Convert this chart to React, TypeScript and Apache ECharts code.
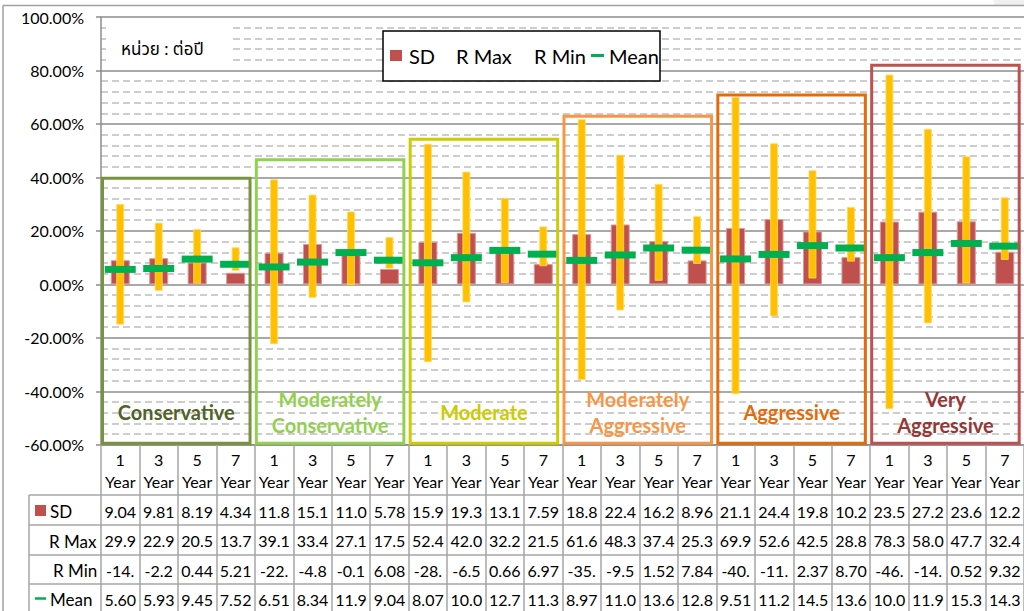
import React, { useEffect, useRef } from "react";
import * as echarts from "echarts";

// ---------- data ----------
const categories = [
  "1 Year", "3 Year", "5 Year", "7 Year",
  "1 Year", "3 Year", "5 Year", "7 Year",
  "1 Year", "3 Year", "5 Year", "7 Year",
  "1 Year", "3 Year", "5 Year", "7 Year",
  "1 Year", "3 Year", "5 Year", "7 Year",
  "1 Year", "3 Year", "5 Year", "7 Year",
];
const sdValues = [9.04, 9.81, 8.19, 4.34, 11.8, 15.1, 11.0, 5.78, 15.9, 19.3, 13.1, 7.59, 18.8, 22.4, 16.2, 8.96, 21.1, 24.4, 19.8, 10.2, 23.5, 27.2, 23.6, 12.2];
const rMaxValues = [29.9, 22.9, 20.5, 13.7, 39.1, 33.4, 27.1, 17.5, 52.4, 42.0, 32.2, 21.5, 61.6, 48.3, 37.4, 25.3, 69.9, 52.6, 42.5, 28.8, 78.3, 58.0, 47.7, 32.4];
const rMinValues = [-14.9, -2.25, 0.44, 5.21, -22.2, -4.85, -0.15, 6.08, -28.9, -6.55, 0.66, 6.97, -35.6, -9.55, 1.52, 7.84, -40.9, -11.8, 2.37, 8.7, -46.5, -14.4, 0.52, 9.32];
const meanValues = [5.6, 5.93, 9.45, 7.52, 6.51, 8.34, 11.9, 9.04, 8.07, 10.0, 12.7, 11.3, 8.97, 11.0, 13.6, 12.8, 9.51, 11.2, 14.5, 13.6, 10.0, 11.9, 15.3, 14.3];

const seriesNames = ["SD", "R Max", "R Min", "Mean"];
const groupNames = ["Conservative", "Moderately\nConservative", "Moderate", "Moderately\nAggressive", "Aggressive", "Very\nAggressive"];
const groupStart = [0, 4, 8, 12, 16, 20];
const groupEnd = [3, 7, 11, 15, 19, 23];
const groupTops = [39.7, 46.6, 54.3, 62.9, 70.8, 82.0];
const groupBoxColors = ["#77933C", "#92D050", "#CCCC00", "#F79646", "#E36C09", "#C0504D"];
const groupTextColors = ["#4F6228", "#92D050", "#CCCC00", "#F79646", "#E36C09", "#953735"];
const unitLabel = "หน่วย : ต่อปี";
const yMin = -60;
const yMax = 100;
const yInterval = 20;

const FONT = 'Lato, "Noto Sans", "Noto Sans Thai", sans-serif';
const fmt = (v: number) => v.toFixed(2).slice(0, 4);

const SD_COLOR = "#C0504D";
const RANGE_COLOR = "#FFC000";
const MEAN_COLOR = "#00B050";
const TABLE_LINE = "#A6A6A6";

export default function App() {
  const ref = useRef<HTMLDivElement>(null);
  useEffect(() => {
    document.body.style.margin = "0";
    const chart = echarts.init(ref.current!, null, { renderer: "svg" });

    const tableAxis = (values: number[], offset: number) => ({
      type: "category" as const,
      gridIndex: 0,
      position: "bottom" as const,
      offset,
      data: values.map(fmt),
      axisLine: { show: false, onZero: false },
      axisTick: { show: false },
      splitLine: { show: false },
      axisLabel: { interval: 0, margin: 0, fontSize: 16, lineHeight: 20, color: "#000", fontFamily: FONT },
    });

    const txt = (x: number, y: number, text: string, size: number, extra: any = {}) => ({
      type: "text",
      x,
      y,
      z: 20,
      style: {
        text,
        fill: "#000",
        font: `${size}px ${FONT}`,
        align: "left",
        textAlign: "left",
        verticalAlign: "middle",
        textVerticalAlign: "middle",
        ...extra,
      },
    });
    const hline = (x1: number, x2: number, y: number, color = TABLE_LINE, w = 1.5) => ({
      type: "line",
      z: 15,
      shape: { x1, y1: y, x2, y2: y },
      style: { stroke: color, lineWidth: w },
    });
    const vline = (x: number, y1: number, y2: number, color = TABLE_LINE, w = 1.5) => ({
      type: "line",
      z: 15,
      shape: { x1: x, y1, x2: x, y2 },
      style: { stroke: color, lineWidth: w },
    });

    const option: any = {
      animation: false,
      textStyle: { fontFamily: FONT },
      grid: { left: 101, top: 17, width: 927.6, height: 427.8, containLabel: false },
      xAxis: [
        {
          type: "category",
          data: categories,
          axisLine: { onZero: false, lineStyle: { color: "#8C8C8C", width: 1.5 } },
          axisTick: { show: true, length: 167, lineStyle: { color: TABLE_LINE, width: 1.5 } },
          axisLabel: {
            interval: 0,
            margin: 4,
            fontSize: 16,
            lineHeight: 22,
            color: "#000",
            fontFamily: FONT,
            formatter: (v: string) => v.replace(" ", "\n"),
          },
          splitLine: { show: false },
        },
        tableAxis(sdValues, 56.7),
        tableAxis(rMaxValues, 86),
        tableAxis(rMinValues, 115.5),
        tableAxis(meanValues, 144.7),
      ],
      yAxis: {
        type: "value",
        min: yMin,
        max: yMax,
        interval: yInterval,
        axisLine: { show: true, lineStyle: { color: "#8C8C8C", width: 1.5 } },
        axisTick: { show: true, length: 5, lineStyle: { color: "#8C8C8C", width: 1.5 } },
        axisLabel: {
          margin: 17,
          fontSize: 16,
          color: "#000",
          fontFamily: FONT,
          formatter: (v: number) => `${v.toFixed(2)}%`,
        },
        splitLine: { show: true, lineStyle: { color: "#8C8C8C", width: 1.5 } },
        minorTick: { show: false, splitNumber: 5 },
        minorSplitLine: { show: true, lineStyle: { color: "#BDBDBD", width: 1.5, type: [7, 4] } },
      },
      series: [
        {
          name: seriesNames[0],
          type: "bar",
          data: sdValues,
          barWidth: 19,
          z: 2,
          itemStyle: { color: SD_COLOR, borderColor: "#D99A98", borderWidth: 1 },
        },
        {
          name: seriesNames[1] + " / " + seriesNames[2],
          type: "custom",
          z: 3,
          data: categories.map((_, i) => [i, rMinValues[i], rMaxValues[i]]),
          encode: { x: 0, y: [1, 2] },
          renderItem: (params: any, api: any) => {
            const lo = api.coord([api.value(0), api.value(1)]);
            const hi = api.coord([api.value(0), api.value(2)]);
            const w = 7;
            return {
              type: "rect",
              shape: { x: lo[0] - w / 2, y: hi[1], width: w, height: lo[1] - hi[1] },
              style: { fill: RANGE_COLOR, stroke: "#FFD966", lineWidth: 0.8 },
            };
          },
        },
        {
          name: seriesNames[3],
          type: "scatter",
          z: 4,
          data: meanValues,
          symbol: "rect",
          symbolSize: [31, 7],
          itemStyle: { color: MEAN_COLOR, opacity: 1 },
        },
        {
          name: "groups",
          type: "custom",
          z: 5,
          clip: false,
          data: groupTops.map((t, i) => [groupStart[i], groupEnd[i], t]),
          encode: { x: [0, 1], y: 2 },
          renderItem: (params: any, api: any) => {
            const s = api.value(0);
            const e = api.value(1);
            const top = api.value(2);
            const half = api.size([1, 0])[0] / 2;
            const pTop = api.coord([s, top]);
            const pEnd = api.coord([e, top]);
            const pBot = api.coord([s, yMin]);
            const x0 = pTop[0] - half + 1.5;
            const x1 = pEnd[0] + half - 4.8;
            const y0 = pTop[1];
            const y1 = pBot[1] - 1.5;
            const i = params.dataIndex;
            return {
              type: "group",
              children: [
                {
                  type: "rect",
                  shape: { x: x0, y: y0, width: x1 - x0, height: y1 - y0 },
                  style: { fill: "none", stroke: groupBoxColors[i], lineWidth: 3 },
                },
                {
                  type: "text",
                  x: (x0 + x1) / 2,
                  y: y1 - 31.5,
                  style: {
                    text: groupNames[i],
                    fill: groupTextColors[i],
                    font: `bold 20px ${FONT}`,
                    align: "center",
                    textAlign: "center",
                    verticalAlign: "middle",
                    textVerticalAlign: "middle",
                    lineHeight: 26,
                  },
                },
              ],
            };
          },
        },
      ],
      graphic: [
        // outer chart frame
        { type: "rect", z: 15, shape: { x: 994, y: 0, width: 30, height: 5 }, style: { fill: "#F0F0F0" } },
        hline(3, 1024, 5.5, "#A0A0A0", 1.5),
        vline(3, 5.5, 611, "#A0A0A0", 1.5),
        // unit label box
        { type: "rect", z: 12, shape: { x: 106, y: 19, width: 124, height: 47 }, style: { fill: "#fff" } },
        txt(121, 48, unitLabel, 17),
        // legend
        {
          type: "rect",
          z: 12,
          shape: { x: 383, y: 31, width: 277, height: 50 },
          style: { fill: "#fff", stroke: "#000", lineWidth: 1.5 },
        },
        { type: "rect", z: 20, shape: { x: 390, y: 50, width: 12, height: 11 }, style: { fill: SD_COLOR } },
        txt(409, 56, seriesNames[0], 20),
        txt(456, 56, seriesNames[1], 20),
        txt(534, 56, seriesNames[2], 20),
        { type: "line", z: 20, shape: { x1: 591, y1: 55.5, x2: 604, y2: 55.5 }, style: { stroke: MEAN_COLOR, lineWidth: 3 } },
        txt(609, 56, seriesNames[3], 20),
        // data table grid lines
        hline(29, 1024, 495),
        hline(29, 1024, 525),
        hline(29, 1024, 555),
        hline(29, 1024, 584),
        vline(29, 495, 611),
        // data table row headers
        { type: "rect", z: 20, shape: { x: 35, y: 505, width: 11, height: 11 }, style: { fill: SD_COLOR } },
        txt(50, 511, seriesNames[0], 17),
        txt(49, 541, seriesNames[1], 17),
        txt(53, 570, seriesNames[2], 17),
        { type: "line", z: 20, shape: { x1: 35, y1: 598.5, x2: 46, y2: 598.5 }, style: { stroke: MEAN_COLOR, lineWidth: 2.5 } },
        txt(50, 599, seriesNames[3], 17),
      ],
    };
    chart.setOption(option);
    return () => chart.dispose();
  }, []);
  return <div ref={ref} style={{ position: "absolute", left: 0, top: 0, width: 1024, height: 611 }} />;
}
